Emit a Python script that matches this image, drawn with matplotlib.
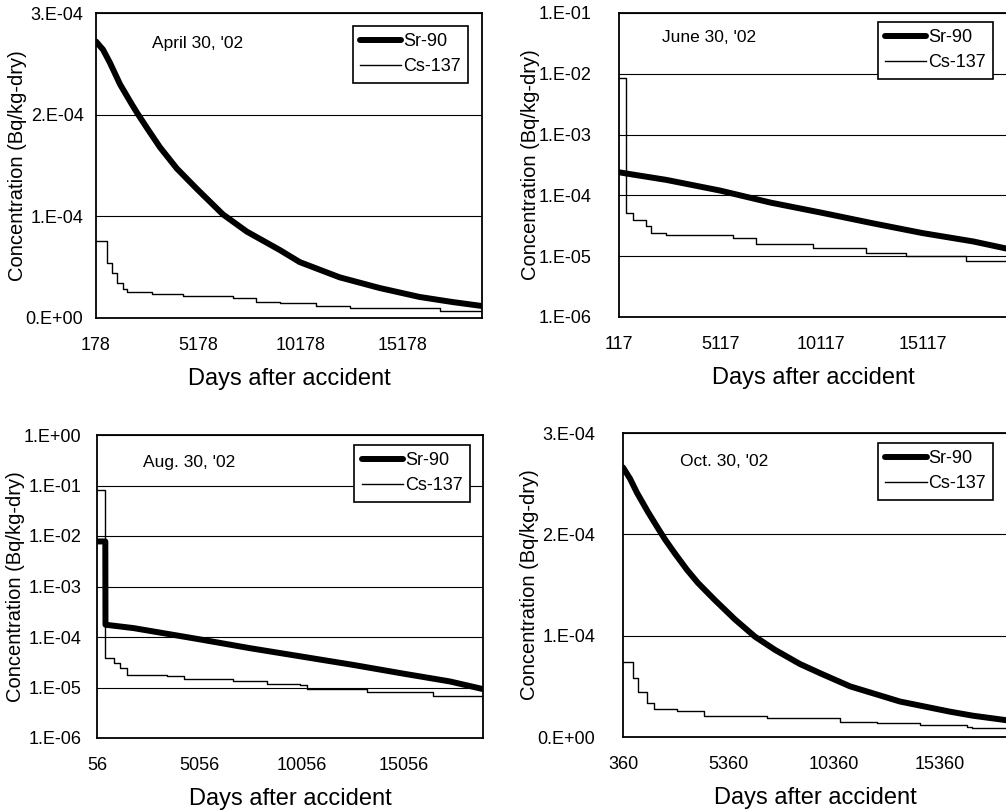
import matplotlib
matplotlib.use("Agg")
import matplotlib.pyplot as plt
from matplotlib.ticker import NullLocator

plt.rcParams['font.family'] = ['Liberation Sans', 'DejaVu Sans']

# ---- data ----
# April 30, '02 (linear)
days_sr_apr = [178, 520, 862, 1351, 1937, 2182, 2670, 3306, 4136, 5114, 6385, 7558, 9171,
               10149, 12105, 14060, 16015, 17628, 19071]
sr_apr = [2.72e-4, 2.64e-4, 2.51e-4, 2.30e-4, 2.10e-4, 2.02e-4, 1.87e-4, 1.68e-4, 1.47e-4,
          1.27e-4, 1.02e-4, 0.85e-4, 0.669e-4, 0.55e-4, 0.40e-4, 0.295e-4, 0.207e-4,
          0.157e-4, 0.118e-4]
days_cs_apr = [178, 700, 940, 1190, 1510, 1680, 2900, 4450, 6890, 8030, 9171, 10965, 12594,
               16993, 19071]
cs_apr = [7.6e-5, 5.4e-5, 4.4e-5, 3.4e-5, 2.9e-5, 2.6e-5, 2.4e-5, 2.2e-5, 2.0e-5, 1.6e-5,
          1.44e-5, 1.18e-5, 0.95e-5, 0.72e-5, 0.72e-5]

# June 30, '02 (log)
days_sr_jun = [117, 809, 2456, 5117, 7617, 10117, 12617, 15117, 17617, 19293]
sr_jun = [2.4e-4, 2.2e-4, 1.8e-4, 1.2e-4, 7.6e-5, 5.2e-5, 3.5e-5, 2.4e-5, 1.75e-5, 1.33e-5]
days_cs_jun = [117, 479, 809, 1468, 1715, 2456, 5751, 6904, 9705, 12341, 14318, 17283, 19293]
cs_jun = [8.4e-3, 5.1e-5, 4.0e-5, 3.1e-5, 2.4e-5, 2.2e-5, 2.0e-5, 1.56e-5, 1.37e-5, 1.12e-5,
          1.0e-5, 8.4e-6, 7.7e-6]

# Aug. 30, '02 (log)
days_sr_aug = [56, 462, 470, 1843, 5061, 7531, 10050, 12568, 15055, 17281, 18906]
sr_aug = [7.8e-3, 7.8e-3, 1.75e-4, 1.5e-4, 9.0e-5, 6.0e-5, 4.1e-5, 2.8e-5, 1.87e-5, 1.32e-5, 9.3e-6]
days_cs_aug = [56, 462, 868, 1193, 1518, 3468, 4281, 6718, 8343, 9968, 10293, 13218, 16468, 18906]
cs_aug = [8.2e-2, 3.8e-5, 3.0e-5, 2.4e-5, 1.8e-5, 1.66e-5, 1.5e-5, 1.35e-5, 1.2e-5, 1.1e-5,
          9.3e-6, 8.3e-6, 6.7e-6, 5.7e-6]

# Oct. 30, '02 (linear)
days_sr_oct = [360, 691, 1023, 1544, 2017, 2349, 2822, 3390, 3911, 4716, 5663, 6610, 7557,
               8741, 9688, 11108, 13476, 15843, 16932, 18542]
sr_oct = [2.66e-4, 2.55e-4, 2.41e-4, 2.22e-4, 2.06e-4, 1.95e-4, 1.81e-4, 1.65e-4, 1.52e-4,
          1.35e-4, 1.16e-4, 0.99e-4, 0.86e-4, 0.72e-4, 0.63e-4, 0.50e-4, 0.35e-4,
          0.25e-4, 0.21e-4, 0.165e-4]
days_cs_oct = [360, 830, 1055, 1497, 1844, 2918, 4181, 7180, 10635, 12387, 14423, 16648,
               16900, 18542]
cs_oct = [7.4e-5, 5.8e-5, 4.4e-5, 3.4e-5, 2.8e-5, 2.6e-5, 2.1e-5, 1.9e-5, 1.5e-5, 1.38e-5,
          1.2e-5, 1.0e-5, 0.9e-5, 0.9e-5]

lin_ticks = [0, 1e-4, 2e-4, 3e-4]
lin_labels = ['0.E+00', '1.E-04', '2.E-04', '3.E-04']
log_ticks_jun = [1e-6, 1e-5, 1e-4, 1e-3, 1e-2, 1e-1]
log_labels_jun = ['1.E-06', '1.E-05', '1.E-04', '1.E-03', '1.E-02', '1.E-01']
log_ticks_aug = log_ticks_jun + [1e0]
log_labels_aug = log_labels_jun + ['1.E+00']

xt_apr = [178, 5178, 10178, 15178]
xt_jun = [117, 5117, 10117, 15117]
xt_aug = [56, 5056, 10056, 15056]
xt_oct = [360, 5360, 10360, 15360]

W, H = 1006, 811
fig = plt.figure(figsize=(W / 100, H / 100), dpi=100)


def px_axes(left, top, right, bottom):
    return fig.add_axes([left / W, 1 - bottom / H, (right - left) / W, (bottom - top) / H])


def panel(ax, dsr, sr, dcs, cs, xlim, xticks, yticks, ylabels, log, title, tpos,
          legpos, ypad):
    ax.plot(dsr, sr, color='black', lw=4.3, solid_joinstyle='round', solid_capstyle='round',
            label='Sr-90', zorder=4)
    ax.plot(dcs, cs, color='black', lw=1.0, drawstyle='steps-post', label='Cs-137', zorder=3)
    if log:
        ax.set_yscale('log')
    ax.set_xlim(*xlim)
    ax.set_ylim(yticks[0], yticks[-1])
    ax.set_yticks(yticks)
    ax.set_yticklabels(ylabels)
    ax.yaxis.set_minor_locator(NullLocator())
    ax.set_xticks(xticks)
    ax.set_xticklabels([str(t) for t in xticks])
    ax.tick_params(axis='both', length=0, labelsize=13)
    ax.tick_params(axis='x', pad=14)
    ax.tick_params(axis='y', pad=ypad)
    ax.yaxis.grid(True, color='black', lw=0.8)
    ax.set_axisbelow(True)
    for s in ax.spines.values():
        s.set_linewidth(1.3)
    ax.set_xlabel('Days after accident', fontsize=17, labelpad=10)
    ax.set_ylabel('Concentration (Bq/kg-dry)', fontsize=14.5, labelpad=-1)
    ax.text(tpos[0], tpos[1], title, transform=ax.transAxes, fontsize=12.5,
            ha='left', va='center')
    leg = ax.legend(loc='upper right', bbox_to_anchor=legpos, borderaxespad=0,
                    fontsize=13, frameon=True, fancybox=False, framealpha=1,
                    edgecolor='black', handlelength=2.3, handletextpad=0.1,
                    borderpad=0.4, labelspacing=0.45)
    leg.get_frame().set_linewidth(1.2)


ax1 = px_axes(96, 13, 482, 318)
panel(ax1, days_sr_apr, sr_apr, days_cs_apr, cs_apr, (178, 19071), xt_apr, lin_ticks,
      lin_labels, False, "April 30, '02", (0.145, 0.90), (0.964, 0.957), 9)

ax2 = px_axes(619, 13, 1007, 317)
panel(ax2, days_sr_jun, sr_jun, days_cs_jun, cs_jun, (117, 19293), xt_jun, log_ticks_jun,
      log_labels_jun, True, "June 30, '02", (0.11, 0.918), (0.964, 0.970), 20)

ax3 = px_axes(97, 435, 483, 738)
panel(ax3, days_sr_aug, sr_aug, days_cs_aug, cs_aug, (56, 18906), xt_aug, log_ticks_aug,
      log_labels_aug, True, "Aug. 30, '02", (0.119, 0.908), (0.966, 0.967), 11)

ax4 = px_axes(623, 433, 1007, 737)
panel(ax4, days_sr_oct, sr_oct, days_cs_oct, cs_oct, (360, 18542), xt_oct, lin_ticks,
      lin_labels, False, "Oct. 30, '02", (0.148, 0.905), (0.964, 0.967), 20)

fig.savefig('out.png', dpi=100, facecolor='white')
